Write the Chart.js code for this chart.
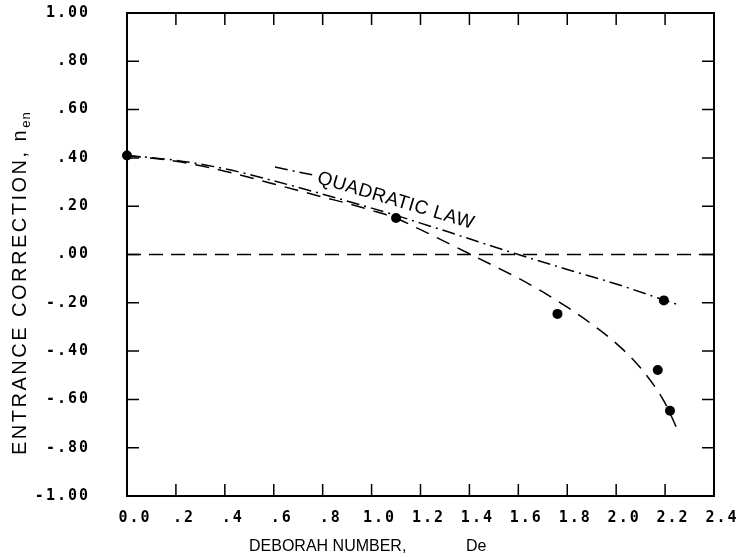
<!DOCTYPE html>
<html><head><meta charset="utf-8">
<script src="https://cdn.jsdelivr.net/npm/chart.js@4.4.0/dist/chart.umd.min.js"></script>
<style>html,body{margin:0;padding:0;background:#fff}#wrap{width:739px;height:557px}</style>
</head><body><div id="wrap"><canvas id="c" width="739" height="557"></canvas></div>
<script>
const xTickLabels = ["0.0",".2",".4",".6",".8","1.0","1.2","1.4","1.6","1.8","2.0","2.2","2.4"];
const yTickLabels = ["-1.00","-.80","-.60","-.40","-.20",".00",".20",".40",".60",".80","1.00"];
const pointDe = [0.0, 1.10, 1.76, 2.195, 2.17, 2.22];
const pointN  = [0.41, 0.151, -0.246, -0.19, -0.478, -0.647];
const dashedDe = [0.0, 0.2, 0.4, 0.6, 0.8, 0.9, 1.0, 1.1, 1.2, 1.3, 1.4, 1.5, 1.6, 1.7, 1.8, 1.9, 2.0, 2.1, 2.2, 2.245];
const dashedN  = [0.41, 0.386, 0.345, 0.292, 0.238, 0.212, 0.183, 0.15, 0.103, 0.053, 0.003, -0.047, -0.098, -0.155, -0.218, -0.288, -0.368, -0.47, -0.615, -0.713];
const dashDotDe = [0.0, 0.2, 0.4, 0.6, 0.8, 1.0, 1.1, 1.2, 1.3, 1.4, 1.5, 1.6, 1.8, 2.0, 2.2, 2.245];
const dashDotN  = [0.41, 0.39, 0.355, 0.305, 0.25, 0.192, 0.162, 0.13, 0.098, 0.065, 0.032, 0.0, -0.062, -0.122, -0.19, -0.205];
const leaderDe = [0.605, 0.762];
const leaderN  = [0.362, 0.329];
const zeroDe = [0, 2.4];
const zeroN  = [0, 0];
const labelText = "QUADRATIC LAW";
const labelDe = 0.78, labelN = 0.318;
const xTitleMain = "DEBORAH NUMBER,";
const xTitleSym = "De";
const yTitleMain = "ENTRANCE CORRECTION, n";
const yTitleSub = "en";

const pts = (xs, ys) => xs.map((x, i) => ({x, y: ys[i]}));

const framePlugin = {
  id: 'frame',
  beforeDraw(chart) { chart.ctx.letterSpacing = '0px'; },
  afterDatasetsDraw(chart) { chart.ctx.letterSpacing = '2px'; },
  afterDraw(chart) {
    const ctx = chart.ctx, a = chart.chartArea, xs = chart.scales.x, ys = chart.scales.y;
    ctx.save();
    ctx.letterSpacing = '0px';
    ctx.strokeStyle = '#000';
    ctx.lineWidth = 2;
    ctx.setLineDash([]);
    ctx.strokeRect(a.left, a.top, a.right - a.left, a.bottom - a.top);
    ctx.lineWidth = 1.5;
    const tl = 12;
    ctx.beginPath();
    xs.ticks.forEach((t, i) => {
      if (i === 0 || i === xs.ticks.length - 1) return;
      const px = xs.getPixelForValue(t.value);
      ctx.moveTo(px, a.bottom); ctx.lineTo(px, a.bottom - tl);
      ctx.moveTo(px, a.top); ctx.lineTo(px, a.top + tl);
    });
    ys.ticks.forEach((t, i) => {
      if (i === 0 || i === ys.ticks.length - 1) return;
      const py = ys.getPixelForValue(t.value);
      ctx.moveTo(a.left, py); ctx.lineTo(a.left + tl, py);
      ctx.moveTo(a.right, py); ctx.lineTo(a.right - tl, py);
    });
    ctx.stroke();
    ctx.fillStyle = '#000';

    // x axis title
    ctx.font = '16px "Liberation Sans"';
    ctx.textAlign = 'left';
    ctx.textBaseline = 'alphabetic';
    ctx.fillText(xTitleMain, 249, 551);
    ctx.fillText(xTitleSym, 466, 551);

    // y axis title (rotated)
    ctx.save();
    ctx.translate(19, 455);
    ctx.rotate(-Math.PI / 2);
    ctx.font = '20px "Liberation Sans"';
    ctx.letterSpacing = '2.5px';
    ctx.fillText(yTitleMain, 0, 7);
    const w = ctx.measureText(yTitleMain).width;
    ctx.font = '13px "Liberation Sans"';
    ctx.letterSpacing = '1px';
    ctx.fillText(yTitleSub, w, 11);
    ctx.restore();

    // label along the quadratic law line
    const lx = xs.getPixelForValue(labelDe), ly = ys.getPixelForValue(labelN);
    ctx.translate(lx, ly);
    ctx.rotate(16.5 * Math.PI / 180);
    ctx.font = '19px "Liberation Sans"';
    ctx.letterSpacing = '0.5px';
    ctx.textAlign = 'left';
    ctx.textBaseline = 'middle';
    ctx.fillText(labelText, 0, 0);
    ctx.restore();
  }
};

const tickFont = {family: '"DejaVu Sans Mono"', size: 15, weight: 'bold'};

new Chart(document.getElementById('c'), {
  type: 'scatter',
  data: {
    datasets: [
      {data: pts(zeroDe, zeroN), showLine: true, borderColor: '#000', borderWidth: 1.5, borderDash: [14, 8], pointRadius: 0},
      {data: pts(dashedDe, dashedN), showLine: true, borderColor: '#000', borderWidth: 1.5, borderDash: [14, 9], pointRadius: 0, cubicInterpolationMode: 'monotone'},
      {data: pts(dashDotDe, dashDotN), showLine: true, borderColor: '#000', borderWidth: 1.5, borderDash: [13, 5, 2, 5], pointRadius: 0, cubicInterpolationMode: 'monotone'},
      {data: pts(leaderDe, leaderN), showLine: true, borderColor: '#000', borderWidth: 1.5, borderDash: [13, 5, 2, 5], pointRadius: 0},
      {data: pts(pointDe, pointN), showLine: false, pointRadius: 5, pointBackgroundColor: '#000', pointBorderColor: '#000', pointBorderWidth: 0, clip: false}
    ]
  },
  options: {
    responsive: false,
    animation: false,
    devicePixelRatio: 1,
    layout: {padding: {left: 0, right: 25, top: 13, bottom: 0}},
    plugins: {legend: {display: false}, tooltip: {enabled: false}},
    scales: {
      x: {
        type: 'linear', min: 0, max: 2.4,
        grid: {display: false, drawTicks: true, tickLength: 10},
        border: {display: false},
        ticks: {stepSize: 0.2, autoSkip: false, maxRotation: 0, z: 1, padding: 3, labelOffset: 8,
                color: '#000', font: tickFont, callback: (v, i) => xTickLabels[i]},
        title: {display: false},
        afterFit: s => { s.height = 61; }
      },
      y: {
        type: 'linear', min: -1, max: 1,
        grid: {display: false, drawTicks: true, tickLength: 33},
        border: {display: false},
        ticks: {stepSize: 0.2, autoSkip: false, z: 1, padding: 4,
                color: '#000', font: tickFont, callback: (v, i) => yTickLabels[i]},
        title: {display: false},
        afterFit: s => { s.width = 127; }
      }
    }
  },
  plugins: [framePlugin]
});
</script>
</body></html>
